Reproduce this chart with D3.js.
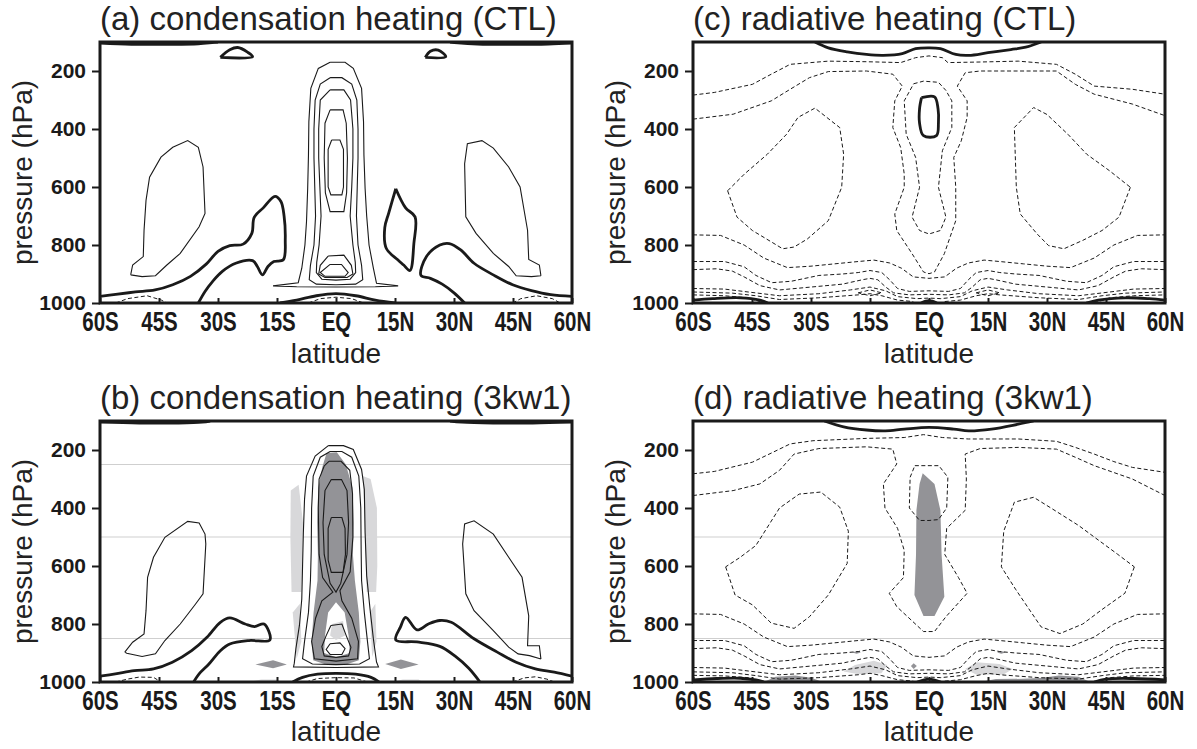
<!DOCTYPE html>
<html>
<head>
<meta charset="utf-8">
<script src="https://cdn.jsdelivr.net/npm/d3@7"></script>
<style>
  body { margin: 0; background: #fff; }
  svg { display: block; }
</style>
</head>
<body>
<svg id="fig" width="1197" height="749"></svg>
<script>
// ---------------------------------------------------------------
// Axis definitions
// ---------------------------------------------------------------
const latTicks = [-60, -45, -30, -15, 0, 15, 30, 45, 60];
const latLabels = ["60S", "45S", "30S", "15S", "EQ", "15N", "30N", "45N", "60N"];
const presTicks = [200, 400, 600, 800, 1000];
const titles = [
  "(a) condensation heating (CTL)",
  "(b) condensation heating (3kw1)",
  "(c) radiative heating (CTL)",
  "(d) radiative heating (3kw1)"
];

// Contour lines are lists of [latitude, pressure(hPa)] vertices.
// Closed contours repeat their first vertex at the end.

// ---- (a) condensation heating, CTL ----
const condCtlZero = [
  [[-60,104],[-52,108],[-42,108],[-35,106],[-31.5,102],[-30,100]],
  [[29,100],[31,103],[36,107],[45,108],[54,107],[60,104]],
  [[-29.4,153],[-27,127],[-25,119],[-22.5,135],[-21.2,151],[-29.4,153]],
  [[22.7,153],[24,132],[26,128],[27.9,151],[22.7,153]],
  [[-60,977],[-56,970],[-51,962],[-46,955],[-41.5,937],[-37,908],[-33,866],[-30,822],[-27,802],[-23.6,797],[-21.4,760],[-20.8,705],[-18.5,672],[-15.5,632],[-14,650],[-13.2,700],[-12.9,780],[-13.4,851],[-15.8,857],[-17.3,874],[-18.7,903],[-20,874],[-21.2,854],[-25.5,863],[-28.9,891],[-31.4,926],[-33.3,960],[-35,1000]],
  [[15.2,606],[17.7,672],[20.1,703],[19.8,794],[18.8,888],[17.2,869],[15.7,851],[12.8,812],[12.4,740],[13.4,690],[15.2,606]],
  [[60,977],[54.6,971],[49.7,957],[44.9,937],[40,903],[35.1,863],[31.7,817],[28.8,795],[26.4,800],[23,840],[21.6,905],[24,915],[27,935],[30,965],[32.7,1000]],
  [[-14.3,1000],[-10,990],[-5,975],[0,968],[5,975],[10,990],[15,1000]]
];
const condCtlPos = [
  [[-1.5,170],[2.3,170],[4.4,191],[6.5,260],[7,375],[7.1,490],[7.4,605],[7.8,700],[8.4,800],[9.5,880],[10.3,932],[15.8,941],[10,944],[0,945],[-10,944],[-16,941],[-9.6,930],[-8.7,880],[-7.9,800],[-7.5,720],[-7.2,605],[-7,490],[-6.9,375],[-6.4,260],[-4.5,191],[-1.5,170]],
  [[-1.5,223],[1.5,223],[4,245],[5.3,300],[5.6,400],[5.6,500],[5.4,600],[5.2,700],[5.6,800],[6.5,870],[6.8,920],[5,935],[0,937],[-5,935],[-6.8,920],[-6.5,870],[-5.6,800],[-5.2,700],[-5.4,600],[-5.6,500],[-5.6,400],[-5.3,300],[-4,245],[-1.5,223]],
  [[-1.5,265],[2,265],[3.7,300],[4.3,400],[4.3,500],[4,600],[3.6,700],[4.3,800],[4.9,860],[5,895],[3.6,918],[0,921],[-3.6,918],[-5,895],[-4.9,860],[-4.3,800],[-3.8,700],[-4.1,600],[-4.4,500],[-4.4,400],[-4,300],[-1.5,265]],
  [[-1.5,334],[1.8,334],[2.6,380],[2.9,500],[2.7,620],[2,685],[-1.5,685],[-2.7,620],[-3,500],[-2.8,380],[-1.5,334]],
  [[-1.1,438],[1,438],[1.9,470],[1.9,600],[1.5,627],[-1.3,627],[-2,600],[-2,470],[-1.1,438]],
  [[-2,838],[2,835],[3.9,870],[4.3,900],[2.8,912],[-2.8,912],[-4.4,900],[-4,870],[-2,838]],
  [[-1.5,867],[1.4,867],[3.1,895],[2.3,908],[-2.8,908],[-4,895],[-1.5,867]],
  [[-52.2,903],[-51.7,869],[-49,840],[-48.8,749],[-48.3,646],[-47.4,566],[-44.5,497],[-41.5,463],[-37.7,440],[-35,463],[-33.8,531],[-33.3,691],[-34.8,737],[-39.6,829],[-43,869],[-45.9,906],[-49.3,909],[-52.2,903]],
  [[52.1,906],[51.7,869],[49,850],[48.7,749],[46.8,600],[43.9,531],[40,466],[37.1,440],[33.4,451],[32.7,520],[33,703],[35.6,760],[40,829],[43.9,874],[45.8,906],[49.7,909],[52.1,906]]
];
const condCtlNeg = [
  [[-56,1000],[-53,985],[-48,975],[-44.4,990],[-43,1000]],
  [[44.9,1000],[47,985],[51,975],[55,985],[57,1000]],
  [[-7,1000],[-4,985],[0,980],[4,985],[7,1000]]
];

// ---- (b) condensation heating, 3kw1 ----
const condExpZero = [
  [[-60,104],[-50,107],[-40,107],[-34,104],[-32,100]],
  [[29,100],[32,104],[40,107],[50,107],[60,104]],
  [[-60,980],[-56.1,972],[-51.3,961],[-46.4,955],[-41.6,932],[-36.7,892],[-32.8,846],[-29.4,794],[-27,779],[-23.1,800],[-20.7,809],[-18.3,800],[-16.8,855],[-22.1,857],[-27,869],[-29.4,892],[-32.3,938],[-34.8,972],[-36.2,1000]],
  [[60,980],[55.5,966],[50.7,955],[45.8,932],[41,897],[35.1,851],[29.3,794],[26.4,788],[23.5,800],[20.6,820],[17.7,777],[16.4,810],[15.2,855],[20.6,862],[26.4,877],[30.3,911],[33.7,952],[36.6,1000]],
  [[-11,1000],[-8.5,984],[-4.7,973],[0,970],[5,973],[8.9,984],[10.9,1000]]
];
const condExpPos = [
  [[-1.95,185],[1.9,185],[4.4,198],[6.5,267],[7.2,336],[7.4,485],[7.8,634],[8.65,748],[9.5,851],[10.3,931],[10.8,948],[0,950],[-10.8,948],[-10.6,935],[-10.2,885],[-9.3,805],[-8.7,714],[-8.5,599],[-8.3,485],[-8,370],[-7.5,290],[-5.3,221],[-1.95,185]],
  [[-1.5,205],[1.5,205],[4,225],[5.8,290],[6.3,400],[6.4,550],[6.5,650],[7.2,760],[8,860],[8.5,920],[6,938],[0,940],[-6,938],[-8.5,920],[-8,860],[-7,760],[-6.5,650],[-6.3,550],[-6.2,400],[-5.8,290],[-4,225],[-1.5,205]],
  [[-1.8,239],[1.3,239],[3.5,270],[4.2,350],[4.3,500],[3.6,620],[1,685],[1.5,720],[4,780],[5.7,860],[5.5,920],[0,928],[-5.5,920],[-6.2,860],[-5.2,780],[-3.6,720],[-0.8,690],[-3.4,640],[-4.3,560],[-4.5,400],[-4.3,300],[-3,255],[-1.8,239]],
  [[-1.2,302],[1.4,302],[2.8,340],[3.2,450],[2.8,560],[1.2,660],[0,690],[-1.5,660],[-3,560],[-3.3,450],[-2.8,340],[-1.2,302]],
  [[-1.2,433],[1.5,433],[2.3,470],[2.4,560],[1.8,622],[-1.2,622],[-2,580],[-2,470],[-1.2,433]],
  [[-1.3,805],[1.5,800],[2.6,840],[3.8,880],[3.2,910],[0,915],[-3,910],[-3.6,878],[-2.5,840],[-1.3,805]],
  [[-1.5,868],[1,865],[2.3,885],[1.5,905],[-1.5,905],[-2.5,888],[-1.5,868]],
  [[-53.7,897],[-51.7,863],[-48.8,834],[-48.3,754],[-47.9,639],[-46.4,570],[-43.5,501],[-37.7,446],[-34.8,452],[-33.3,490],[-33.1,524],[-33.8,696],[-35.7,731],[-39.6,800],[-43.5,857],[-45.9,903],[-49.3,912],[-53.2,901],[-53.7,897]],
  [[52.1,921],[51.7,875],[48.7,875],[49,772],[47.3,639],[43.9,570],[40,490],[35.1,444],[32.7,455],[32.2,524],[33,696],[35.1,754],[40,823],[43.9,880],[46.3,903],[49.2,909],[52.1,921]]
];
const condExpNeg = [
  [[-56,1000],[-53,990],[-50,983],[-46.4,984],[-44.5,1000]],
  [[44.9,1000],[47.8,986],[50.7,982],[53.6,990],[55.5,1000]],
  [[-7.6,1000],[-4.7,988],[0,985],[4.6,986],[8,1000]]
];
// shaded regions: each region is a list of rings (even-odd fill)
const condExpDark = [
  [[[-2.4,210],[0.2,208],[2.5,250],[4.2,330],[4.5,450],[4.3,560],[4.8,650],[5.8,760],[6.2,860],[5.8,925],[3,938],[0,940],[-3,938],[-5.8,925],[-6.2,860],[-5.7,760],[-4.7,650],[-4.6,560],[-4.8,450],[-4.5,330],[-3.5,260],[-2.4,210]],
   [[0,725],[2.2,760],[3.2,840],[3.5,900],[0,915],[-3,900],[-2.8,840],[-2,760],[0,725]]],
  [[[-20.5,940],[-16,925],[-12.5,940],[-16,953],[-20.5,940]]],
  [[[12.5,938],[16.5,922],[21,940],[16.5,955],[12.5,938]]]
];
const condExpLight = [
  [[[-11.5,340],[-9.5,320],[-8.4,450],[-8.5,600],[-8.8,690],[-11.3,690],[-11.6,500],[-11.5,340]]],
  [[[6.8,290],[8.8,300],[10.4,400],[10.5,600],[10.2,690],[7.8,690],[7.5,560],[7.2,400],[6.8,290]]],
  [[[-11,760],[-9.2,730],[-8.8,860],[-10,920],[-11,760]]],
  [[[8.6,760],[10,730],[10.3,860],[9.2,915],[8.6,760]]],
  [[[-1,800],[1.8,790],[2.3,840],[0,855],[-1.5,840],[-1,800]]],
  [[[-22,1000],[-19,991],[-15,991],[-14,1000],[-22,1000]]],
  [[[14,1000],[17,991],[21,991],[22,1000],[14,1000]]]
];
const condExpGrid = [250, 500, 850];

// ---- (c) radiative heating, CTL ----
const radCtlZero = [
  [[-29,100],[-25.6,120],[-20.8,134],[-15.9,143],[-11.6,146],[-6.8,140],[-3.4,123],[0,120],[2.9,123],[6.8,143],[10.1,146],[15,137],[20.8,126],[24.6,118],[28.5,100]],
  [[-1.9,292],[1.4,289],[2.3,330],[2.4,380],[1.9,423],[-1.4,423],[-2.4,380],[-2.4,330],[-1.9,292]],
  [[-60,990],[-55,985],[-48,982],[-43,990],[-41,1000]],
  [[40,1000],[43,990],[50,982],[56,985],[60,990]],
  [[-2,1000],[0,992],[2,1000]]
];
const radCtlNeg = [
  [[-60,283],[-54.6,274],[-44.9,246],[-40.1,211],[-35.3,177],[-25.6,166],[-15.9,168],[-7.2,171],[-3.4,154],[0,148],[3.4,154],[4.8,171],[13,169],[22.7,166],[32.4,177],[37.2,211],[42,252],[51.7,263],[60,280]],
  [[-60,366],[-49.8,349],[-40.1,303],[-35.3,263],[-30.4,223],[-25.6,202],[-15.9,200],[-9.2,211],[-6.8,252],[-8.7,303],[-9.2,395],[-7.2,464],[-6.3,555],[-6.3,601],[-8.7,693],[-8.2,750],[-4.3,830],[-1.4,893],[0,899],[1.4,893],[3.9,830],[6.8,716],[6.8,601],[6.3,498],[8.2,441],[9.7,360],[9.7,303],[7.2,252],[9.2,206],[13,200],[22.7,200],[32.4,200],[37.2,246],[42,280],[51.7,314],[60,354]],
  [[-3.9,244],[-1.4,235],[2.4,239],[4.3,267],[5.8,303],[5.8,395],[3.4,475],[2.4,601],[4.3,704],[2.9,750],[0,762],[-2.4,750],[-4.3,704],[-2.4,601],[-3.4,498],[-5.8,418],[-6.3,303],[-3.9,244]],
  [[-51.2,613],[-48.8,704],[-44.9,750],[-40,790],[-37.2,813],[-34.3,807],[-30.9,779],[-25.6,716],[-22.2,601],[-21.7,487],[-22.7,395],[-29,328],[-33.3,360],[-36.2,418],[-41.1,487],[-46.9,555],[-51.2,613]],
  [[51.2,601],[48.3,704],[44,750],[39.1,784],[34.3,813],[30.4,802],[27.5,762],[23.2,693],[22.2,601],[21.7,395],[26.6,326],[30,350],[35.3,418],[40.1,487],[45.9,544],[51.2,601]],
  [[-60,765],[-53,767],[-47,800],[-42,845],[-36,878],[-30,873],[-24,865],[-18,857],[-14,852],[-10,862],[-7,880],[-4,910],[0,915],[4,910],[7,880],[10,862],[14,852],[18,857],[24,865],[30,873],[36,878],[42,845],[47,800],[53,767],[60,765]],
  [[-60,857],[-52,857],[-47,875],[-44,905],[-40,930],[-35,925],[-28,905],[-22,900],[-18,895],[-15,888],[-12,895],[-10,920],[-8,950],[-5,960],[0,958],[5,960],[8,950],[10,920],[12,895],[15,888],[18,895],[22,900],[28,905],[35,925],[40,930],[44,905],[47,875],[52,857],[60,857]],
  [[-60,885],[-54,882],[-50,890],[-47,910],[-43,940],[-38,955],[-30,945],[-22,935],[-17,920],[-15,915],[-13,920],[-11,945],[-9,965],[-5,972],[0,970],[5,972],[9,965],[11,945],[13,920],[15,915],[17,920],[22,935],[30,945],[38,955],[43,940],[47,910],[50,890],[54,882],[60,885]],
  [[-60,950],[-52,952],[-46,962],[-38,975],[-28,968],[-20,955],[-15,945],[-11,958],[-8,978],[-3,985],[0,983],[3,985],[8,978],[11,958],[15,945],[20,955],[28,968],[38,975],[46,962],[52,952],[60,950]],
  [[-60,962],[-50,966],[-44,975],[-38,988],[-28,982],[-18,972],[-15,968],[-12,975],[-8,990],[-4,995]],
  [[4,995],[8,990],[12,975],[15,968],[18,972],[28,982],[38,988],[44,975],[50,966],[60,962]],
  [[-60,972],[-52,975],[-46,982],[-42,1000]],
  [[42,1000],[46,982],[52,975],[60,972]],
  [[-18,965],[-15,955],[-12,965],[-15,975],[-18,965]],
  [[12,965],[15,955],[18,965],[15,975],[12,965]]
];

// ---- (d) radiative heating, 3kw1 ----
const radExpZero = [
  [[-26.6,100],[-21.7,120],[-15.9,131],[-11.1,134],[-6.3,128],[0,122],[6.3,128],[10.1,134],[15.9,128],[22.7,111],[26.6,100]],
  [[-60,993],[-54,988],[-48,987],[-44,993],[-42,1000]],
  [[42,1000],[45,990],[52,988],[60,993]],
  [[-3,1000],[0,990],[3,1000]]
];
const radExpNeg = [
  [[-60,282],[-54.6,274],[-44.9,242],[-40,210],[-35.3,179],[-29.5,168],[-15.9,160],[-6.3,157],[-1.4,147],[3.4,157],[10,162],[22.7,162],[32.4,170],[37,190],[42,214],[47,240],[51.7,260],[60,277]],
  [[-60,357],[-49.8,340],[-43,317],[-38,270],[-34.3,214],[-28,195],[-15.9,189],[-9.2,197],[-8.2,248],[-11.6,317],[-11.2,400],[-8,470],[-6.3,546],[-6.5,640],[-10.1,694],[-8.2,740],[-1.4,826],[1.4,826],[4.3,775],[9.7,694],[7.5,640],[4,560],[4.5,470],[9.2,408],[9.5,300],[9.2,214],[13,195],[22.7,191],[32.4,197],[37.2,225],[42,254],[51.7,300],[60,357]],
  [[-3.6,254],[2.5,254],[4.8,294],[4.5,400],[2.4,440],[0,443],[-2.4,443],[-5,400],[-4.8,294],[-3.6,254]],
  [[-51.7,603],[-49.3,700],[-44.9,734],[-40.1,797],[-34.3,815],[-30.4,775],[-25.6,700],[-20.8,591],[-20.5,480],[-22.7,397],[-27.5,345],[-33,352],[-38,400],[-44,529],[-48,570],[-51.7,603]],
  [[52.2,603],[49.8,694],[44,750],[39.1,800],[33.3,833],[28.5,810],[25,740],[22,680],[18.4,603],[19,480],[21.7,380],[26.6,363],[31,400],[38,460],[44,520],[48,560],[52.2,603]],
  [[-60,765],[-53,767],[-47,800],[-42,845],[-36,878],[-30,873],[-24,865],[-18,857],[-14,852],[-10,862],[-7,880],[-4,910],[0,915],[4,910],[7,880],[10,862],[14,852],[18,857],[24,865],[30,873],[36,878],[42,845],[47,800],[53,767],[60,765]],
  [[-60,857],[-52,857],[-47,875],[-44,905],[-40,930],[-35,925],[-28,905],[-22,900],[-18,895],[-15,888],[-12,895],[-10,920],[-8,950],[-5,960],[0,958],[5,960],[8,950],[10,920],[12,895],[15,888],[18,895],[22,900],[28,905],[35,925],[40,930],[44,905],[47,875],[52,857],[60,857]],
  [[-60,885],[-54,882],[-50,890],[-47,910],[-43,940],[-38,955],[-30,945],[-22,935],[-17,920],[-15,915],[-13,920],[-11,945],[-9,965],[-5,972],[0,970],[5,972],[9,965],[11,945],[13,920],[15,915],[17,920],[22,935],[30,945],[38,955],[43,940],[47,910],[50,890],[54,882],[60,885]],
  [[-60,950],[-52,952],[-46,962],[-38,975],[-28,968],[-20,955],[-15,945],[-11,958],[-8,978],[-3,985],[0,983],[3,985],[8,978],[11,958],[15,945],[20,955],[28,968],[38,975],[46,962],[52,952],[60,950]],
  [[-60,965],[-50,968],[-44,978],[-38,990],[-28,985],[-18,975],[-15,970],[-12,978],[-8,992],[-4,997]],
  [[4,997],[8,992],[12,978],[15,970],[18,975],[28,985],[38,990],[44,978],[50,968],[60,965]],
  [[-60,977],[-52,979],[-46,985],[-43,1000]],
  [[43,1000],[46,985],[52,979],[60,977]]
];
const radExpDark = [
  [[[-1.6,280],[1.4,317],[2.9,408],[3.2,560],[3.9,706],[1.4,772],[-1.4,772],[-3.7,700],[-3.3,560],[-3.2,408],[-2.4,317],[-1.6,280]]],
  [[[-4.6,945],[-3.9,935],[-3.1,945],[-3.9,955],[-4.6,945]]],
  [[[-19.5,898],[-18.4,893],[-17.3,898],[-18.4,903],[-19.5,898]]],
  [[[17.3,898],[18.4,893],[19.5,898],[18.4,903],[17.3,898]]],
  [[[-42,1000],[-39,982],[-34,978],[-30,985],[-27,1000],[-42,1000]]],
  [[[13,1000],[17,990],[24,989],[29,985],[33,978],[38,982],[41,1000],[13,1000]]]
];
const radExpLight = [
  [[[-21.7,964],[-18.8,941],[-14,927],[-10.6,941],[-12.1,970],[-17.9,973],[-21.7,964]]],
  [[[9.2,955],[12.1,932],[17.9,938],[21.3,955],[18.8,975],[12.1,975],[9.2,955]]]
];
const radExpGrid = [500, 850];

// ---------------------------------------------------------------
// Figure layout
// ---------------------------------------------------------------
const PW = 472, PH = 261;
const panels = [
  { title: titles[0], left: 100, top: 42,  zero: condCtlZero, pos: condCtlPos, neg: condCtlNeg, dark: [], light: [], grid: [] },
  { title: titles[1], left: 100, top: 421, zero: condExpZero, pos: condExpPos, neg: condExpNeg, dark: condExpDark, light: condExpLight, grid: condExpGrid },
  { title: titles[2], left: 693, top: 42,  zero: radCtlZero, pos: [], neg: radCtlNeg, dark: [], light: [], grid: [] },
  { title: titles[3], left: 693, top: 421, zero: radExpZero, pos: [], neg: radExpNeg, dark: radExpDark, light: radExpLight, grid: radExpGrid }
];

const svg = d3.select("#fig");
const INK = "#1a1a1a";
const SANS = "'Liberation Sans', Arial, Helvetica, sans-serif";

panels.forEach((pn, i) => {
  const x = d3.scaleLinear().domain([-60, 60]).range([0, PW]);
  const y = d3.scaleLinear().domain([100, 1000]).range([0, PH]);
  const g = svg.append("g").attr("transform", `translate(${pn.left},${pn.top})`);

  const clipId = "plotclip" + i;
  g.append("clipPath").attr("id", clipId)
    .append("rect").attr("width", PW).attr("height", PH);
  const body = g.append("g").attr("clip-path", `url(#${clipId})`);

  const line = d3.line().x(d => x(d[0])).y(d => y(d[1]));
  const smooth = d3.line().x(d => x(d[0])).y(d => y(d[1])).curve(d3.curveCatmullRom.alpha(0.5));
  const ringsPath = rings => rings.map(r => line(r) + "Z").join("");

  // reference pressure levels
  body.selectAll("line.grid").data(pn.grid).join("line")
    .attr("class", "grid")
    .attr("x1", 0).attr("x2", PW)
    .attr("y1", d => y(d)).attr("y2", d => y(d))
    .attr("stroke", "#cfcfcf").attr("stroke-width", 1);

  // shading
  body.selectAll("path.light").data(pn.light).join("path")
    .attr("class", "light")
    .attr("d", ringsPath).attr("fill", "#d8d8da").attr("fill-rule", "evenodd");
  body.selectAll("path.dark").data(pn.dark).join("path")
    .attr("class", "dark")
    .attr("d", ringsPath).attr("fill", "#939397").attr("fill-rule", "evenodd");

  // negative contours (dashed)
  body.selectAll("path.neg").data(pn.neg).join("path")
    .attr("class", "neg")
    .attr("d", line).attr("fill", "none")
    .attr("stroke", INK).attr("stroke-width", 1)
    .attr("stroke-dasharray", "4,2.5");

  // positive contours (thin solid)
  body.selectAll("path.pos").data(pn.pos).join("path")
    .attr("class", "pos")
    .attr("d", line).attr("fill", "none")
    .attr("stroke", INK).attr("stroke-width", 1.1);

  // zero contours (thick)
  body.selectAll("path.zero").data(pn.zero).join("path")
    .attr("class", "zero")
    .attr("d", smooth).attr("fill", "none")
    .attr("stroke", INK).attr("stroke-width", 2.8)
    .attr("stroke-linejoin", "round");

  // frame
  g.append("rect").attr("width", PW).attr("height", PH)
    .attr("fill", "none").attr("stroke", INK).attr("stroke-width", 3);

  // y axis
  const yAxis = g.append("g")
    .call(d3.axisLeft(y).tickValues(presTicks).tickFormat(d3.format("d"))
      .tickSize(8).tickPadding(6));
  yAxis.select(".domain").remove();
  yAxis.selectAll(".tick line").attr("stroke", INK).attr("stroke-width", 2);
  yAxis.selectAll(".tick text")
    .attr("fill", INK)
    .style("font-family", SANS)
    .style("font-weight", "bold").style("font-size", "21px");

  // x axis (narrowed bold labels)
  const xAxis = g.append("g").attr("transform", `translate(0,${PH})`)
    .call(d3.axisBottom(x).tickValues(latTicks)
      .tickFormat((d, k) => latLabels[k]).tickSizeInner(-5).tickSizeOuter(0).tickPadding(9));
  xAxis.select(".domain").remove();
  xAxis.selectAll(".tick line").attr("stroke", INK).attr("stroke-width", 2);
  xAxis.selectAll(".tick text")
    .attr("fill", INK)
    .attr("transform", "scale(0.76,1)")
    .style("font-family", SANS)
    .style("font-weight", "bold").style("font-size", "27px");

  // titles and axis names
  g.append("text").attr("x", 0).attr("y", -12)
    .attr("fill", "#222")
    .style("font-family", SANS)
    .style("font-size", "33px")
    .text(pn.title);

  g.append("text")
    .attr("transform", `translate(-68,${PH / 2}) rotate(-90)`)
    .attr("text-anchor", "middle")
    .attr("fill", "#222")
    .style("font-family", SANS)
    .style("font-size", "28px")
    .text("pressure (hPa)");

  g.append("text")
    .attr("x", PW / 2).attr("y", i % 2 === 0 ? PH + 60 : PH + 59)
    .attr("text-anchor", "middle")
    .attr("fill", "#222")
    .style("font-family", SANS)
    .style("font-size", "28px")
    .text("latitude");
});
</script>
</body>
</html>
